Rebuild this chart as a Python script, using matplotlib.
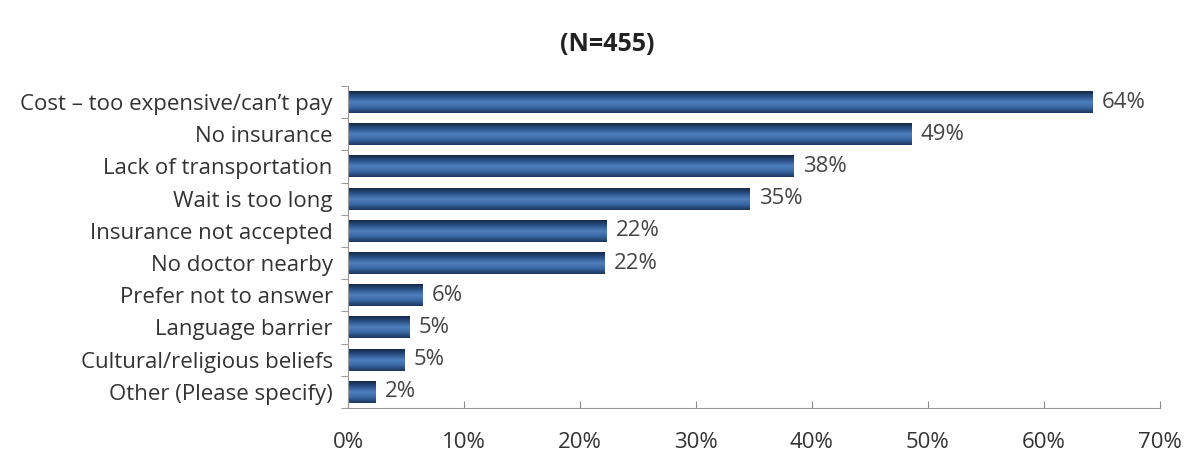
import numpy as np
import matplotlib.pyplot as plt
import matplotlib as mpl
from matplotlib.colors import LinearSegmentedColormap

mpl.rcParams.update({
    "font.family": ["Open Sans", "DejaVu Sans"],
    "text.color": "#333333",
    "xtick.color": "#888888",
    "ytick.color": "#888888",
})

reasons = [
    "Cost \u2013 too expensive/can\u2019t pay",
    "No insurance",
    "Lack of transportation",
    "Wait is too long",
    "Insurance not accepted",
    "No doctor nearby",
    "Prefer not to answer",
    "Language barrier",
    "Cultural/religious beliefs",
    "Other (Please specify)",
]
percent = [64.2, 48.6, 38.4, 34.6, 22.3, 22.1, 6.4, 5.3, 4.9, 2.4]
xticks = [0, 10, 20, 30, 40, 50, 60, 70]

# shaded bar fill: dark rim, lighter band above the middle
shade = LinearSegmentedColormap.from_list(
    "bar", ["#15294a", "#2c5288", "#4e80bf", "#3a67a3", "#1c365e"])
grad = np.linspace(0, 1, 64).reshape(-1, 1)

fig = plt.figure(figsize=(11.86, 4.66), dpi=100)
ax = fig.add_axes([0.2934, 0.1245, 0.6846, 0.691])

n = len(reasons)
ypos = np.arange(n)
h = 0.68
bars = ax.barh(ypos, percent, height=h, color="none", edgecolor="none")
for b, v in zip(bars, percent):
    x0, y0 = b.get_x(), b.get_y()
    ax.imshow(grad, cmap=shade, aspect="auto", interpolation="bicubic",
              extent=(x0, x0 + b.get_width(), y0 + h, y0), zorder=2)
    ax.text(v + 0.8, b.get_y() + h / 2, f"{v:.0f}%", va="center", ha="left",
            fontsize=16, color="#444444")

ax.set_xlim(0, 70)
ax.set_ylim(n - 0.5, -0.5)
ax.set_xticks(xticks)
ax.set_xticklabels([f"{t}%" for t in xticks], fontsize=16, color="#333333")
ax.set_yticks(ypos)
ax.set_yticklabels(reasons, fontsize=16, color="#333333")
ax.set_yticks(np.arange(n + 1) - 0.5, minor=True)
ax.tick_params(axis="y", which="major", length=0, pad=11)
ax.tick_params(axis="y", which="minor", length=5, direction="out")
ax.tick_params(axis="x", length=5, direction="in", pad=17)

for s in ["top", "right"]:
    ax.spines[s].set_visible(False)
for s in ["left", "bottom"]:
    ax.spines[s].set_color("#999999")

fig.text(0.512, 0.905, "(N=455)", ha="center", va="center",
         fontsize=18, fontweight="bold", color="#222222")

fig.savefig("out.png", dpi=100, facecolor="white")
